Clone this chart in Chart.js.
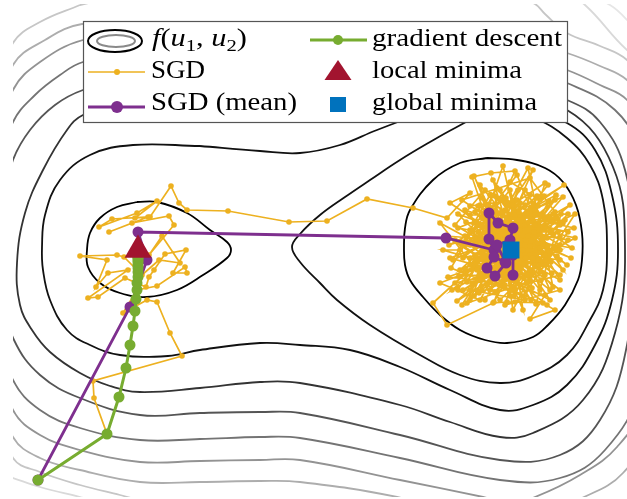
<!DOCTYPE html>
<html><head><meta charset="utf-8">
<script src="https://cdn.jsdelivr.net/npm/chart.js@4.4.1/dist/chart.umd.min.js"></script>
<style>html,body{margin:0;padding:0;background:#fff;overflow:hidden;}#wrap{position:relative;width:627px;height:499px;}canvas{display:block;}</style>
</head><body><div id="wrap"><canvas id="c"></canvas></div>
<script>
// ---- data (u1 along x, u2 along y; y axis drawn downward) ----
const contourD = [[137,202],[157,202],[187,213],[210,230],[227,242],[231,250],[227,258],[203,275],[177,290],[147,297],[120,293],[100,283],[88,267],[87,250],[90,233],[100,218],[117,207],[137,202]];
const contourE = [[487,158],[517,160],[545,168],[563,182],[576,205],[582,233],[582,260],[578,280],[565,305],[548,325],[533,337],[507,343],[485,340],[460,330],[440,315],[423,297],[410,280],[405,265],[404,247],[405,228],[410,210],[433,180],[460,163],[487,158]];
const contourC = [[510,111],[535,118],[567,138],[590,165],[603,200],[607,250],[603,290],[590,320],[567,355],[533,376],[500,383],[460,375],[420,355],[370,325],[337,300],[320,283],[300,262],[292,247],[300,234],[320,215],[345,197],[370,180],[400,160],[430,142],[455,128],[480,116],[510,111]];
const contourB = [[200,146],[260,151],[300,153],[340,145],[377,130],[420,115],[470,106],[520,108],[567,123],[595,150],[612,195],[618,250],[612,300],[595,345],[567,385],[533,405],[500,410],[450,390],[400,367],[350,350],[300,345],[260,343],[200,350],[168,356],[120,355],[90,345],[67,330],[50,300],[43,270],[42,247],[45,215],[60,180],[90,155],[133,145],[200,146]];
const contourO1 = [[300,100],[200,100],[120,105],[83,115],[67,130],[43,170],[25,213],[17,263],[20,305],[32,330],[50,352],[80,373],[110,386],[140,392],[200,388],[260,382],[300,383],[400,405],[450,422],[500,437],[533,433],[583,400],[615,333],[625,250],[613,167],[567,110],[500,100],[420,98],[300,100]];
const contourO2 = [[300,80],[200,80],[120,82],[83,90],[55,105],[30,130],[13,160],[4,200],[1,250],[4,300],[14,340],[40,375],[80,398],[140,415],[200,413],[260,412],[300,413],[400,435],[500,460],[560,455],[600,420],[626,350],[634,250],[625,170],[600,122],[567,100],[520,88],[450,82],[380,80],[300,80]];
const contourO3 = [[300,58],[200,58],[120,58],[83,62],[60,75],[35,95],[13,122],[-5,180],[-10,250],[-5,320],[13,380],[40,410],[80,428],[140,440],[200,439],[260,437],[300,438],[400,458],[500,480],[560,478],[605,450],[638,390],[648,250],[638,150],[615,110],[567,83],[520,68],[450,60],[380,58],[300,58]];
const contourO4 = [[300,44],[200,43],[120,40],[83,40],[40,62],[13,90],[-15,170],[-22,250],[-15,330],[13,410],[40,435],[80,450],[140,462],[200,461],[260,460],[300,460],[400,480],[483,497],[510,503],[535,497],[580,475],[617,447],[645,400],[660,250],[650,140],[627,100],[600,85],[567,70],[520,55],[450,48],[380,45],[300,44]];
const contourO5 = [[300,30],[200,29],[120,28],[82,24],[45,40],[13,65],[-25,160],[-35,250],[-25,340],[13,437],[40,458],[80,470],[140,482],[200,482],[260,481],[300,482],[397,497],[460,515],[520,520],[584,497],[623,473],[655,420],[672,250],[662,120],[627,80],[600,66],[567,53],[520,40],[450,34],[380,31],[300,30]];
const contourO6 = [[80,5],[40,22],[13,43],[-40,150],[-50,250],[-40,350],[13,458],[40,472],[80,485],[120,495],[160,505],[300,520],[500,545],[640,500],[685,250],[672,110],[627,60],[600,46],[567,33],[545,14],[535,4],[500,-12],[300,-15],[150,-10],[80,5]];
const contourO7 = [[13,478],[40,487],[80,497],[150,515],[300,535],[500,560],[650,520],[700,250],[690,100],[627,50],[585,5],[560,-10],[500,-25],[300,-30],[100,-25],[0,0],[-60,250],[-30,440],[13,478]];
const contourO8 = [[560,-20],[610,5],[627,20],[660,60],[730,250],[700,540],[300,580],[-80,540],[-90,250],[-40,-40],[300,-45],[560,-20]];

const sgdPath = [[38,480],[107,434],[94,398],[93,381],[182,356],[170,333],[157,302],[147,300],[123,313],[137,290],[157,286],[185,267],[187,273],[173,273],[186,250],[165,254],[154,270],[149,277],[146,287],[125,278],[98,297],[88,298],[128,270],[108,273],[96,287],[107,260],[80,256],[117,255],[124,257],[142,275],[159,260],[180,263],[162,236],[149,255],[174,225],[169,216],[132,223],[109,232],[148,217],[112,219],[99,227],[137,213],[157,201],[135,218],[150,217],[171,186],[179,203],[187,210],[228,211],[289,222],[327,221],[367,199],[413,208],
[447,218],[470,193],[450,203],[490,230],[472,177],[491,173],[515,171],[510,182],[540,200],[564,185],[520,215],[563,197],[530,235],[575,214],[545,260],[500,200],[480,240],[520,270],[557,218],[495,215],[460,250],[443,250],[485,262],[535,245],[563,223],[512,205],[470,230],[530,280],[560,237],[505,235],[453,260],[490,195],[550,230],[525,190],[480,280],[448,277],[510,255],[560,250],[500,275],[470,215],[540,215],[515,290],[458,290],[505,210],[545,275],[472,283],[525,225],[560,260],[490,250],[440,223],[500,300],[535,265],[480,205],[552,273],[520,245],[467,303],[495,235],[540,290],[510,190],[485,220],[530,255],[462,245],[517,175],[545,245],[500,260],[440,283],[480,300],[520,230],[555,200],[495,280],[470,265],[535,210],[433,303],[447,325],[493,303],[507,302],[515,302],[543,303],[555,310],[530,319],[545,295],[505,285],[475,255],[525,205],[560,225],[485,190],[455,225],[530,270],[500,245],[548,185],[478,268],[520,285],[560,275],[490,215],[512,262],[465,210],[540,235],[500,225],[470,290],[525,300],[545,220],[483,248],[530,195],[505,275],[455,240],[560,245],[495,205],[520,255],[475,222],[540,265],[510,230],[490,290],[535,250],[465,270],[515,215],[550,290],[480,235],[525,260],[500,190],[545,255],[470,245],[515,280],[535,225],[490,265],[520,240],
[462,200],[530,178],[555,212],[478,260],[508,218],[568,232],[523,296],[451,268],[497,188],[541,252],[486,276],[570,205],[516,236],[458,214],[532,288],[503,166],[476,244],[549,201],[494,302],[527,213],[563,270],[482,198],[512,279],[446,236],[538,243],[571,258],[499,229],[467,282],[528,168],[553,287],[488,208],[519,262],[457,301],[543,226],[506,251],[474,176],[536,304],[561,214],[492,242],[450,258],[524,278],[568,240],[481,226],[510,296],[545,183],[465,236],[533,258],[498,270],[555,247],[470,206],[517,200],[487,285],[540,272],[459,276],[526,240],[574,228],[502,212],[479,293],[551,262],[493,180],[514,248],[463,258],[537,196],[505,305],[560,290],[484,233],[529,222],[452,290],[547,238],[496,262],[518,190],[470,300],[565,220],[490,224],[541,280],[475,212],[523,250],[508,270],[556,195],[466,244],[534,232],[500,285],[547,305],[482,252],[520,203],[458,228],[572,248],[495,196],[513,310],[538,260],[477,270],[552,222],[503,240],[462,305],[527,282],[489,206],[567,265],[516,224],[449,245],[544,196],[498,250],[531,300],[472,232],[558,232],[509,260],[485,300],[535,215],[455,283],[521,268],[575,238],[493,218],[546,265],[480,185],[514,296],[540,248],[466,222],[528,236],[501,276],[553,214],[474,296],[519,212],[560,280],[487,240],[533,170],[507,228],[460,270],[545,228],[495,292],[526,258],[568,214],[483,218],[512,244],[550,300],[470,258],[538,206],[498,236],[557,256],[478,206],[523,310],[506,198],[548,246],[463,290],[530,246]];
const sgdMean = [[38,480],[130,307],[147,260],[138,232],[446,238],[494,250],[489,239],[489,213],[498,223],[513,228],[510,240],[497,245],[506,263],[495,276],[487,268],[494,257],[505,262],[513,255],[513,275]];
const gdPath = [[38,480],[107,434],[119,397],[126,368],[130,345],[133,326],[135,311],[136,299],[137,290],[137,283],[138,277],[138,272],[138,268],[138,265],[138,262],[138,260],[138,258],[138,257],[138,256]];
const localMin = [[138,250]];
const globalMin = [[511,250]];

// ---- styles ----
const ORANGE='#EDB120', PURPLE='#7E2F8E', GREEN='#77AC30', RED='#A2142F', BLUE='#0072BD';
const contourStyles = [
  [contourO8,'#e6e6e6'],[contourO7,'#d9d9d9'],[contourO6,'#c6c6c6'],[contourO5,'#adadad'],[contourO4,'#939393'],
  [contourO3,'#747474'],[contourO2,'#555555'],[contourO1,'#333333'],
  [contourB,'#111'],[contourC,'#111'],[contourE,'#000'],[contourD,'#000']
];
const toXY = a => a.map(p => ({x:p[0], y:p[1]}));

const datasets = [];
contourStyles.forEach(([pts,col]) => datasets.push({data:toXY(pts), showLine:true, borderColor:col, borderWidth:1.8, pointRadius:0, tension:0.4, order:20}));
datasets.push({data:toXY(sgdPath), showLine:true, borderColor:ORANGE, borderWidth:1.7, pointRadius:2.8, pointBackgroundColor:ORANGE, pointBorderWidth:0, tension:0, order:5});
datasets.push({data:toXY(sgdMean), showLine:true, borderColor:PURPLE, borderWidth:2.8, pointRadius:5.5, pointBackgroundColor:PURPLE, pointBorderWidth:0, tension:0, order:4});
datasets.push({data:toXY(gdPath), showLine:true, borderColor:GREEN, borderWidth:3, pointRadius:5.5, pointBackgroundColor:GREEN, pointBorderWidth:0, tension:0, order:3});
datasets.push({data:toXY(localMin), showLine:false, pointStyle:'triangle', pointRadius:15.5, pointBackgroundColor:RED, pointBorderWidth:0, order:2});
datasets.push({data:toXY(globalMin), showLine:false, pointStyle:'rect', pointRadius:12, pointBackgroundColor:BLUE, pointBorderWidth:0, order:1});

const SERIF = '"Liberation Serif", "DejaVu Serif", serif';
function fitText(ctx, txt, x, y, w, font){
  ctx.font = font; const m = ctx.measureText(txt).width;
  ctx.save(); ctx.translate(x,y); ctx.scale(w/m,1); ctx.fillText(txt,0,0); ctx.restore();
}
const legendPlugin = {
  id:'boxLegend',
  afterDraw(chart){
    const ctx = chart.ctx;
    ctx.save();
    ctx.fillStyle='#fff'; ctx.strokeStyle='#555'; ctx.lineWidth=1.2;
    ctx.fillRect(83.5,21.5,484,101); ctx.strokeRect(83.5,21.5,484,101);
    ctx.lineWidth=2; ctx.strokeStyle='#000';
    ctx.beginPath(); ctx.ellipse(115,41,27,11,0,0,Math.PI*2); ctx.stroke();
    ctx.strokeStyle='#8a8a8a';
    ctx.beginPath(); ctx.ellipse(116,41,19,6,0,0,Math.PI*2); ctx.stroke();
    ctx.strokeStyle=ORANGE; ctx.lineWidth=1.7;
    ctx.beginPath(); ctx.moveTo(88,72); ctx.lineTo(145,72); ctx.stroke();
    ctx.fillStyle=ORANGE; ctx.beginPath(); ctx.arc(117,72,3,0,Math.PI*2); ctx.fill();
    ctx.strokeStyle=PURPLE; ctx.lineWidth=2.8;
    ctx.beginPath(); ctx.moveTo(88,107); ctx.lineTo(145,107); ctx.stroke();
    ctx.fillStyle=PURPLE; ctx.beginPath(); ctx.arc(117,107,6,0,Math.PI*2); ctx.fill();
    ctx.strokeStyle=GREEN; ctx.lineWidth=3;
    ctx.beginPath(); ctx.moveTo(310,40); ctx.lineTo(367,40); ctx.stroke();
    ctx.fillStyle=GREEN; ctx.beginPath(); ctx.arc(338,40,5,0,Math.PI*2); ctx.fill();
    ctx.fillStyle=RED; ctx.beginPath(); ctx.moveTo(338,60); ctx.lineTo(351.5,80); ctx.lineTo(324.5,80); ctx.closePath(); ctx.fill();
    ctx.fillStyle=BLUE; ctx.fillRect(330,97,16,15);
    ctx.fillStyle='#000'; ctx.textBaseline='alphabetic';
    const F='25px '+SERIF;
    fitText(ctx,'SGD',151,78,54,F);
    fitText(ctx,'SGD (mean)',151,110,146,F);
    fitText(ctx,'gradient descent',372,46,190,F);
    fitText(ctx,'local minima',372,78,150,F);
    fitText(ctx,'global minima',372,110,165,F);
    const parts=[['f','italic 25px '+SERIF,0],['(','25px '+SERIF,0],['u','italic 25px '+SERIF,0],['1','17px '+SERIF,5],[', ','25px '+SERIF,0],['u','italic 25px '+SERIF,0],['2','17px '+SERIF,5],[')','25px '+SERIF,0]];
    let tot=0; parts.forEach(p=>{ctx.font=p[1]; tot+=ctx.measureText(p[0]).width;});
    const s=95/tot; ctx.save(); ctx.translate(152,46); ctx.scale(s,1);
    let cx=0; parts.forEach(p=>{ctx.font=p[1]; ctx.fillText(p[0],cx,p[2]); cx+=ctx.measureText(p[0]).width;});
    ctx.restore();
    ctx.restore();
  }
};

new Chart(document.getElementById('c'), {
  type:'scatter',
  data:{datasets},
  options:{
    responsive:true, maintainAspectRatio:false, animation:false, devicePixelRatio:1,
    layout:{autoPadding:false, padding:{left:13,top:4,right:0,bottom:2}},
    plugins:{legend:{display:false}, tooltip:{enabled:false}},
    elements:{line:{capBezierPoints:false}},
    scales:{
      x:{type:'linear', min:13, max:627, display:false},
      y:{type:'linear', min:4, max:497, reverse:true, display:false}
    }
  },
  plugins:[legendPlugin]
});
</script></body></html>
